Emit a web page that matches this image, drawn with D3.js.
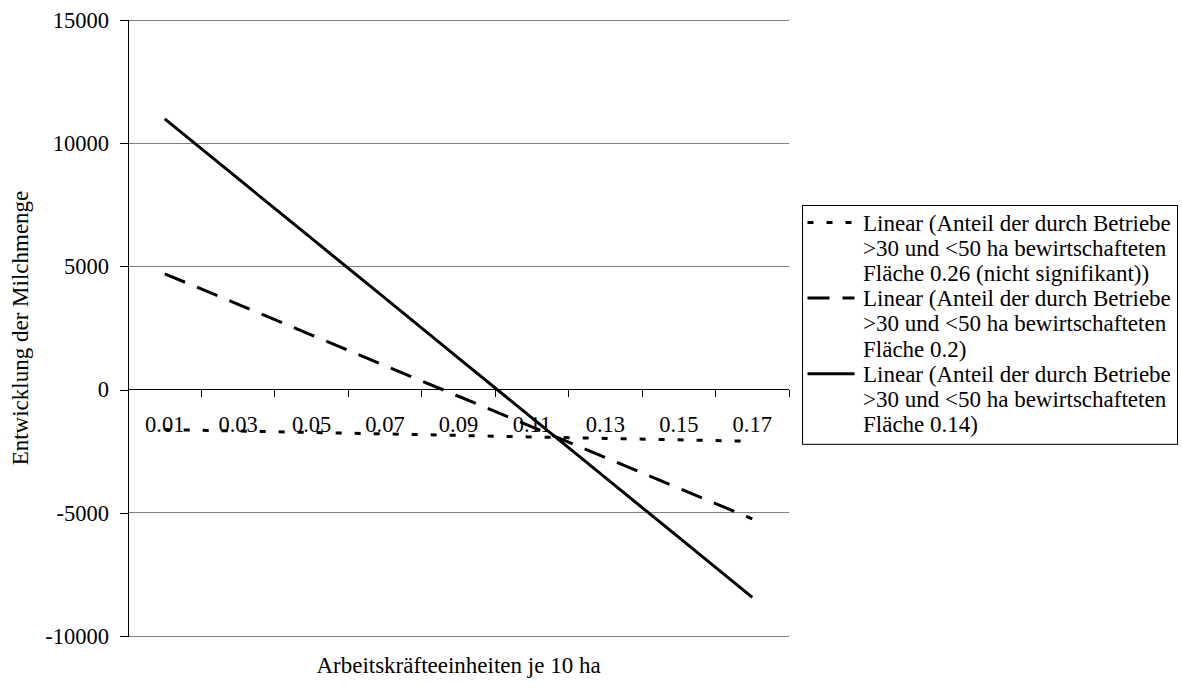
<!DOCTYPE html>
<html>
<head>
<meta charset="utf-8">
<script src="https://cdn.jsdelivr.net/npm/d3@7"></script>
<style>
  html, body { margin: 0; padding: 0; background: #fff; }
  svg { display: block; font-family: "Liberation Serif", "Times New Roman", serif; }
</style>
</head>
<body>
<svg id="chart" width="1182" height="688"></svg>
<script>
// Categories on the x axis (Arbeitskräfteeinheiten je 10 ha)
const categories = ["0.01", "0.03", "0.05", "0.07", "0.09", "0.11", "0.13", "0.15", "0.17"];

// Linear trend values per category
const trend026 = [-1620, -1680, -1740, -1800, -1860, -1920, -1980, -2040, -2100];
const trend020 = [4700, 3460, 2215, 970, -270, -1515, -2760, -4000, -5245];
const trend014 = [10990, 8560, 6135, 3710, 1280, -1150, -3575, -6000, -8430];

// Y axis ticks
const yTicks = [-10000, -5000, 0, 5000, 10000, 15000];

// Legend text, one row per line
const legend026 = ["Linear (Anteil der durch Betriebe", ">30 und <50 ha bewirtschafteten", "Fläche 0.26 (nicht signifikant))"];
const legend020 = ["Linear (Anteil der durch Betriebe", ">30 und <50 ha bewirtschafteten", "Fläche 0.2)"];
const legend014 = ["Linear (Anteil der durch Betriebe", ">30 und <50 ha bewirtschafteten", "Fläche 0.14)"];

const series = [
  { values: trend026, legend: legend026, dash: "6,13" },
  { values: trend020, legend: legend020, dash: "22,13" },
  { values: trend014, legend: legend014, dash: null }
];

const svg = d3.select("#chart");
const plot = { left: 128, right: 789, top: 20, bottom: 636 };

const x = d3.scaleBand().domain(categories).range([plot.left, plot.right]).padding(0);
const y = d3.scaleLinear().domain([-10000, 15000]).range([plot.bottom, plot.top]);

// Horizontal gridlines
svg.append("g")
  .selectAll("line")
  .data(yTicks.filter(v => v !== 0))
  .join("line")
  .attr("x1", plot.left).attr("x2", plot.right)
  .attr("y1", d => y(d)).attr("y2", d => y(d))
  .attr("stroke", "#808080").attr("stroke-width", 1)
  .attr("shape-rendering", "crispEdges");

// Y axis (plain hyphen for negative numbers)
const yAxis = svg.append("g")
  .attr("transform", `translate(${plot.left},0)`)
  .call(d3.axisLeft(y).tickValues(yTicks).tickFormat(d => String(d)).tickSize(8).tickPadding(11));
yAxis.select(".domain").attr("stroke", "#000").attr("shape-rendering", "crispEdges");
yAxis.selectAll(".tick line").attr("stroke", "#000").attr("shape-rendering", "crispEdges");
yAxis.selectAll("text")
  .attr("font-family", "Liberation Serif, Times New Roman, serif")
  .attr("font-size", "22.5px").attr("fill", "#000");

// X axis at zero: ticks at category boundaries
const boundaries = categories.map(c => x(c)).concat([x(categories[categories.length - 1]) + x.bandwidth()]);
const xAxisG = svg.append("g").attr("transform", `translate(0,${y(0)})`);
xAxisG.append("line")
  .attr("x1", plot.left).attr("x2", plot.right)
  .attr("y1", 0).attr("y2", 0)
  .attr("stroke", "#000").attr("shape-rendering", "crispEdges");
xAxisG.selectAll("line.tk")
  .data(boundaries)
  .join("line").attr("class", "tk")
  .attr("x1", d => d).attr("x2", d => d)
  .attr("y1", 0).attr("y2", 7)
  .attr("stroke", "#000").attr("shape-rendering", "crispEdges");
xAxisG.selectAll("text")
  .data(categories)
  .join("text")
  .attr("x", d => x(d) + x.bandwidth() / 2)
  .attr("y", 42)
  .attr("text-anchor", "middle")
  .attr("font-size", "22.5px")
  .text(d => d);

// Trend lines
const line = d3.line()
  .x((d, i) => x(categories[i]) + x.bandwidth() / 2)
  .y(d => y(d));

svg.append("g")
  .selectAll("path")
  .data(series)
  .join("path")
  .attr("d", d => line(d.values))
  .attr("fill", "none")
  .attr("stroke", "#000")
  .attr("stroke-width", 3)
  .attr("stroke-dasharray", d => d.dash);

// Axis titles
svg.append("text")
  .attr("x", (plot.left + plot.right) / 2)
  .attr("y", 673)
  .attr("text-anchor", "middle")
  .attr("font-size", "23px")
  .text("Arbeitskräfteeinheiten je 10 ha");

svg.append("text")
  .attr("transform", `translate(28,${(plot.top + plot.bottom) / 2}) rotate(-90)`)
  .attr("text-anchor", "middle")
  .attr("font-size", "23px")
  .text("Entwicklung der Milchmenge");

// Legend
const lg = { left: 802.5, top: 205.5, width: 375, lineH: 25.2, textX: 863 };
const totalLines = d3.sum(series, s => s.legend.length);
const legendG = svg.append("g");
legendG.append("rect")
  .attr("x", lg.left).attr("y", lg.top)
  .attr("width", lg.width).attr("height", totalLines * lg.lineH + 12)
  .attr("fill", "#fff").attr("stroke", "#000").attr("stroke-width", 1);

let row = 0;
series.forEach(s => {
  const cy = lg.top + 17 + row * lg.lineH;
  legendG.append("line")
    .attr("x1", lg.left + 5).attr("x2", lg.left + 52)
    .attr("y1", cy).attr("y2", cy)
    .attr("stroke", "#000").attr("stroke-width", 3)
    .attr("stroke-dasharray", s.dash);
  s.legend.forEach((t, k) => {
    legendG.append("text")
      .attr("x", lg.textX)
      .attr("y", cy + k * lg.lineH)
      .attr("dy", "0.35em")
      .attr("font-size", "23px")
      .text(t);
  });
  row += s.legend.length;
});
</script>
</body>
</html>
